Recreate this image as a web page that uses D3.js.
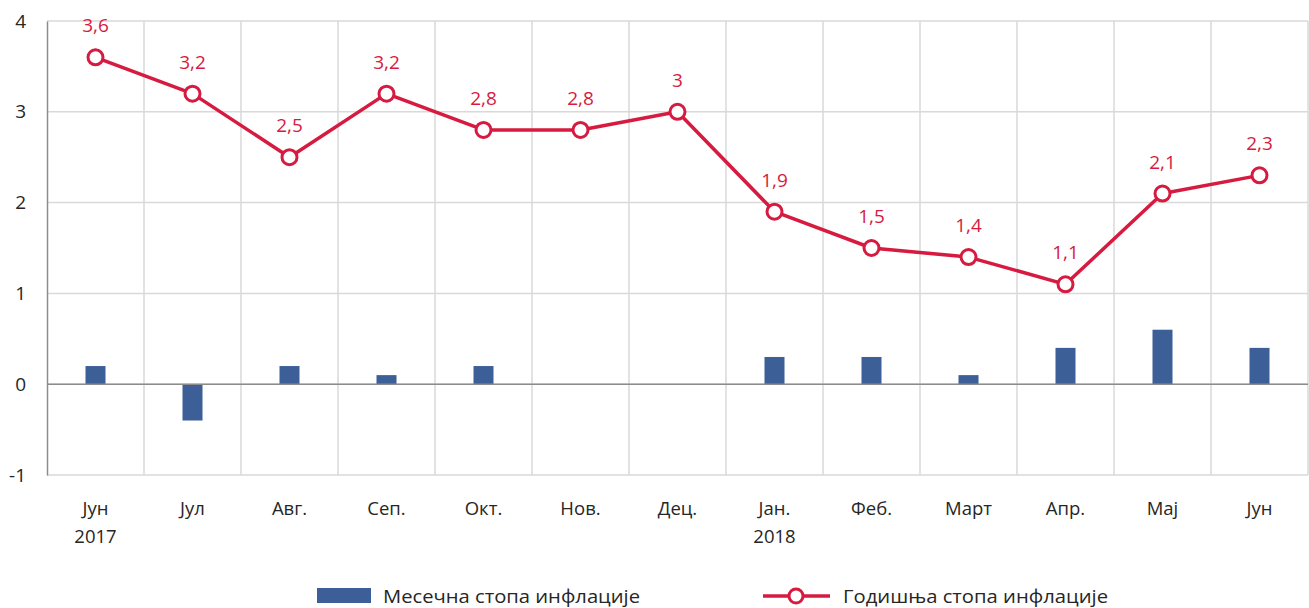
<!DOCTYPE html>
<html>
<head>
<meta charset="utf-8">
<script src="https://cdn.jsdelivr.net/npm/d3@7"></script>
<style>
  body { margin: 0; background: #fff; }
  text { font-family: "Open Sans", sans-serif; }
</style>
</head>
<body>
<script>
// categories (line 1 / line 2 of each label)
const months = ["Јун", "Јул", "Авг.", "Сеп.", "Окт.", "Нов.", "Дец.", "Јан.", "Феб.", "Март", "Апр.", "Мај", "Јун"];
const years = ["2017", "", "", "", "", "", "", "2018", "", "", "", "", ""];
// series
const monthly = [0.2, -0.4, 0.2, 0.1, 0.2, 0, 0, 0.3, 0.3, 0.1, 0.4, 0.6, 0.4];
const annual = [3.6, 3.2, 2.5, 3.2, 2.8, 2.8, 3.0, 1.9, 1.5, 1.4, 1.1, 2.1, 2.3];
const yTicks = [-1, 0, 1, 2, 3, 4];
const seriesNames = ["Месечна стопа инфлације", "Годишња стопа инфлације"];

const width = 1309, height = 608;
const margin = {left: 47, right: 1, top: 21, bottom: 133};
const barColor = "#3c5f98", lineColor = "#d71a40";

const svg = d3.select("body").append("svg")
    .attr("width", width).attr("height", height);

const x = d3.scaleBand()
    .domain(d3.range(months.length))
    .range([margin.left, width - margin.right]);
const y = d3.scaleLinear()
    .domain([-1, 4])
    .range([height - margin.bottom, margin.top]);

const fmt = v => String(v).replace(".", ",");

// grid
svg.append("g").selectAll("line.h")
    .data(yTicks).enter().append("line")
    .attr("x1", margin.left).attr("x2", width - margin.right)
    .attr("y1", d => y(d)).attr("y2", d => y(d))
    .attr("stroke", "#d9d9d9").attr("stroke-width", 1.5);
svg.append("g").selectAll("line.v")
    .data(d3.range(1, months.length + 1)).enter().append("line")
    .attr("x1", d => x.step() * d + margin.left).attr("x2", d => x.step() * d + margin.left)
    .attr("y1", y(4)).attr("y2", y(-1))
    .attr("stroke", "#d9d9d9").attr("stroke-width", 1.5);

// y axis labels
const yAxis = d3.axisLeft(y).tickValues(yTicks).tickSize(0).tickPadding(21).tickFormat(d => d);
svg.append("g")
    .attr("transform", "translate(" + margin.left + ",0)")
    .call(yAxis)
    .call(g => g.select(".domain").attr("stroke", "#8c8c8c").attr("stroke-width", 1.5))
    .selectAll("text")
    .attr("font-size", 19).attr("fill", "#262626");

// bars
const bw = 20;
svg.append("g").selectAll("rect")
    .data(monthly).enter().append("rect")
    .attr("x", (d, i) => x(i) + x.bandwidth() / 2 - bw / 2)
    .attr("y", d => y(Math.max(0, d)))
    .attr("width", bw)
    .attr("height", d => Math.abs(y(d) - y(0)))
    .attr("fill", barColor);

// zero line
svg.append("line")
    .attr("x1", margin.left).attr("x2", width - margin.right)
    .attr("y1", y(0)).attr("y2", y(0))
    .attr("stroke", "#8c8c8c").attr("stroke-width", 1.5);

// x labels
const xl = svg.append("g").selectAll("text")
    .data(months).enter().append("text")
    .attr("x", (d, i) => x(i) + x.bandwidth() / 2)
    .attr("text-anchor", "middle")
    .attr("font-size", 18.5).attr("fill", "#262626");
xl.append("tspan").attr("x", (d, i) => x(i) + x.bandwidth() / 2).attr("y", 515).text(d => d);
xl.append("tspan").attr("x", (d, i) => x(i) + x.bandwidth() / 2).attr("y", 543).text((d, i) => years[i]);

// line
const line = d3.line()
    .x((d, i) => x(i) + x.bandwidth() / 2)
    .y(d => y(d));
svg.append("path")
    .datum(annual)
    .attr("d", line)
    .attr("fill", "none")
    .attr("stroke", lineColor)
    .attr("stroke-width", 3.5)
    .attr("stroke-linejoin", "round");
svg.append("g").selectAll("circle")
    .data(annual).enter().append("circle")
    .attr("cx", (d, i) => x(i) + x.bandwidth() / 2)
    .attr("cy", d => y(d))
    .attr("r", 7.5)
    .attr("fill", "#fff")
    .attr("stroke", lineColor)
    .attr("stroke-width", 3);
svg.append("g").selectAll("text")
    .data(annual).enter().append("text")
    .attr("x", (d, i) => x(i) + x.bandwidth() / 2)
    .attr("y", d => y(d) - 25)
    .attr("text-anchor", "middle")
    .attr("font-size", 19)
    .attr("fill", lineColor)
    .text(d => fmt(d));

// legend
const lg = svg.append("g");
lg.append("rect").attr("x", 317).attr("y", 588).attr("width", 54).attr("height", 15).attr("fill", barColor);
lg.append("text").attr("x", 383).attr("y", 603).attr("font-size", 19).attr("fill", "#262626")
    .attr("textLength", 257).attr("lengthAdjust", "spacingAndGlyphs").text(seriesNames[0]);
lg.append("line").attr("x1", 763).attr("x2", 830).attr("y1", 596).attr("y2", 596)
    .attr("stroke", lineColor).attr("stroke-width", 3.5);
lg.append("circle").attr("cx", 796).attr("cy", 596).attr("r", 7)
    .attr("fill", "#fff").attr("stroke", lineColor).attr("stroke-width", 3);
lg.append("text").attr("x", 843).attr("y", 603).attr("font-size", 19).attr("fill", "#262626")
    .attr("textLength", 265).attr("lengthAdjust", "spacingAndGlyphs").text(seriesNames[1]);
</script>
</body>
</html>
